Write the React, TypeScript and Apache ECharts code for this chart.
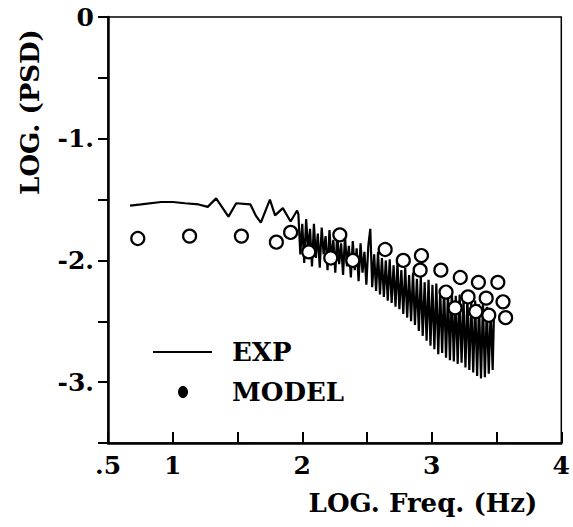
import React, { useEffect, useRef } from "react";
import * as echarts from "echarts";

const xTickLabels: Record<string, string> = { "0.5": ".5", "1": "1", "2": "2", "3": "3", "4": "4" };
const yTickLabels: Record<string, string> = { "0": "0", "-1": "-1.", "-2": "-2.", "-3": "-3." };

const expData: [number, number][] = [
  [0.67, -1.55], [0.755, -1.54], [0.91, -1.52], [1.0, -1.52], [1.095, -1.53], [1.2, -1.54],
  [1.27, -1.56], [1.335, -1.49], [1.43, -1.64], [1.49, -1.53], [1.6, -1.54], [1.64, -1.63],
  [1.68, -1.69], [1.75, -1.5], [1.79, -1.63], [1.85, -1.57], [1.91, -1.68], [1.96, -1.59],
  [1.97, -1.62], [1.985, -1.95], [2.0, -1.7], [2.015, -2.02], [2.03, -1.66], [2.045, -1.92],
  [2.06, -1.74], [2.075, -2.05], [2.09, -1.7], [2.105, -1.98], [2.12, -1.78], [2.135, -2.06],
  [2.15, -1.73], [2.165, -1.95], [2.18, -1.8], [2.195, -2.08], [2.21, -1.75], [2.225, -2.0],
  [2.24, -1.83], [2.255, -2.1], [2.27, -1.78], [2.285, -2.03], [2.3, -1.86], [2.315, -2.12],
  [2.33, -1.8], [2.345, -2.05], [2.36, -1.88], [2.375, -2.14], [2.39, -1.84], [2.405, -2.08],
  [2.42, -1.9], [2.435, -2.17], [2.45, -1.86], [2.465, -2.1], [2.48, -1.93], [2.495, -2.2],
  [2.51, -1.88], [2.525, -1.74], [2.54, -2.22], [2.555, -1.95], [2.57, -2.25], [2.585, -1.93],
  [2.6, -2.28], [2.615, -1.98], [2.63, -2.3], [2.645, -2.0], [2.66, -2.33], [2.675, -1.99],
  [2.69, -2.35], [2.705, -2.04], [2.72, -2.38], [2.735, -2.02], [2.75, -2.4], [2.765, -2.08],
  [2.78, -2.44], [2.795, -2.06], [2.81, -2.47], [2.825, -2.12], [2.84, -2.5], [2.855, -2.1],
  [2.87, -2.53], [2.885, -2.15], [2.9, -2.58], [2.915, -2.13], [2.93, -2.62], [2.945, -2.18],
  [2.96, -2.66], [2.975, -2.16], [2.99, -2.7], [3.005, -2.2], [3.02, -2.73], [3.035, -2.19],
  [3.05, -2.77], [3.065, -2.24], [3.08, -2.76], [3.095, -2.22], [3.11, -2.8], [3.125, -2.26],
  [3.14, -2.82], [3.155, -2.25], [3.17, -2.83], [3.185, -2.29], [3.2, -2.85], [3.215, -2.28],
  [3.23, -2.84], [3.245, -2.32], [3.26, -2.88], [3.275, -2.3], [3.29, -2.9], [3.305, -2.34],
  [3.32, -2.92], [3.335, -2.33], [3.35, -2.95], [3.365, -2.36], [3.38, -2.97], [3.395, -2.35],
  [3.41, -2.96], [3.425, -2.38], [3.44, -2.93], [3.455, -2.4], [3.47, -2.9], [3.48, -2.45],
];

const modelData: [number, number][] = [
  [0.73, -1.82], [1.13, -1.8], [1.53, -1.8], [1.8, -1.85], [1.91, -1.77], [2.05, -1.93],
  [2.22, -1.98], [2.29, -1.79], [2.39, -2.0], [2.64, -1.91], [2.78, -2.0], [2.92, -1.96],
  [2.91, -2.08], [3.07, -2.08], [3.11, -2.26], [3.22, -2.14], [3.36, -2.18], [3.51, -2.18],
  [3.28, -2.3], [3.42, -2.31], [3.55, -2.34], [3.18, -2.39], [3.34, -2.42], [3.44, -2.45],
  [3.57, -2.47],
];

const FONT = "DejaVu Serif";

export default function App() {
  const ref = useRef<HTMLDivElement>(null);
  useEffect(() => {
    if (!ref.current) return;
    const chart = echarts.init(ref.current, undefined, { renderer: "svg" });
    chart.setOption({
      animation: false,
      backgroundColor: "#ffffff",
      grid: {
        left: 108, right: 8, top: 17, bottom: 84,
        show: true, borderColor: "#000", borderWidth: 1.5,
      },
      xAxis: {
        type: "value", min: 0.5, max: 4, interval: 0.5,
        axisLine: { show: true, onZero: false, lineStyle: { color: "#000", width: 2.5 } },
        axisTick: { show: true, inside: true, length: 11, lineStyle: { color: "#000", width: 2 } },
        splitLine: { show: false },
        axisLabel: {
          color: "#000", fontFamily: FONT, fontWeight: "bold", fontSize: 25, margin: 10,
          showMaxLabel: true, showMinLabel: true,
          formatter: (v: number) => xTickLabels[String(v)] ?? "",
        },
      },
      yAxis: {
        type: "value", min: -3.5, max: 0, interval: 0.5,
        axisLine: { show: true, onZero: false, lineStyle: { color: "#000", width: 2.5 } },
        axisTick: { show: true, inside: false, length: 10, lineStyle: { color: "#000", width: 2 } },
        splitLine: { show: false },
        axisLabel: {
          color: "#000", fontFamily: FONT, fontWeight: "bold", fontSize: 25, margin: 14,
          formatter: (v: number) => yTickLabels[String(v)] ?? "",
        },
      },
      series: [
        {
          type: "line", data: expData, symbol: "none", z: 2,
          lineStyle: { color: "#000", width: 2.2 }, clip: true,
        },
        {
          type: "scatter", data: modelData, symbol: "circle", symbolSize: 13, z: 3,
          itemStyle: { color: "#fff", borderColor: "#000", borderWidth: 2.2, opacity: 1 },
        },
      ],
      graphic: [
        {
          type: "text", x: 30, y: 112, rotation: Math.PI / 2,
          style: {
            text: "LOG. (PSD)", fill: "#000", font: `bold 26px "${FONT}"`,
            align: "center", verticalAlign: "middle",
          },
        },
        {
          type: "text", x: 423, y: 503,
          style: {
            text: "LOG. Freq. (Hz)", fill: "#000", font: `bold 26px "${FONT}"`,
            align: "center", verticalAlign: "middle",
          },
        },
        {
          type: "line", shape: { x1: 153, y1: 352, x2: 212, y2: 352 },
          style: { stroke: "#000", lineWidth: 2 },
        },
        {
          type: "text", x: 232, y: 352,
          style: { text: "EXP", fill: "#000", font: `bold 26px "${FONT}"`, align: "left", verticalAlign: "middle" },
        },
        {
          type: "ellipse", shape: { cx: 183, cy: 392, rx: 5, ry: 6 },
          style: { fill: "#000" },
        },
        {
          type: "text", x: 232, y: 392,
          style: { text: "MODEL", fill: "#000", font: `bold 26px "${FONT}"`, align: "left", verticalAlign: "middle" },
        },
      ],
    });
    return () => chart.dispose();
  }, []);
  return <div ref={ref} style={{ width: 573, height: 527, position: "absolute", left: 0, top: 0 }} />;
}
